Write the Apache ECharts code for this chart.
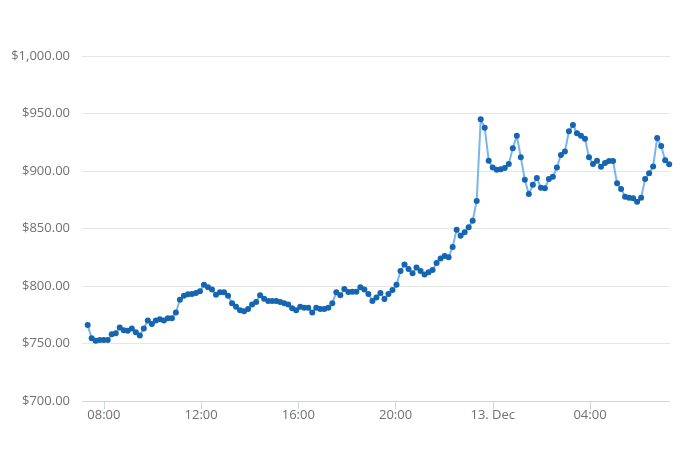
<!DOCTYPE html>
<html><head><meta charset="utf-8">
<script src="https://cdn.jsdelivr.net/npm/echarts@6/dist/echarts.min.js"></script>
<style>html,body{margin:0;padding:0;background:#fff}#c{width:680px;height:453px}</style>
</head><body><div id="c"></div>
<script>
// start time 12 Dec 07:20, ~10-minute samples
var startTime = [2016, 11, 12, 7, 20];
var stepMinutes = 9.9;
var prices = [
766,754.5,752.5,753,753,753,758,759,764,761.5,761,763,759.7,757,763,770,767,770,771,770,772,772,777,788,791.6,792.8,793,794,795.4,801,
799,797,792.5,794.5,794.5,791.6,785,782,779,778,780,784,786,792,789,787,787,787,786,785,784,780.6,779,782,781,781,777,781,780,780,
781,785,794.5,792,797.4,794.8,795,795,799,797,793,787,790,794,788.7,793,796.5,801,813,
818.6,814.8,811,816,813,810,812,814,820,824,826,825,834,849,843.7,846.7,851,856.8,874,945,
937.7,909,903,901,901.5,902.6,906,919.7,930.7,912,892.4,880,888,894,885.5,885,893,895,903,914,
917,934.5,940,932.8,930.7,928,912,906,909,903.7,906.9,908.7,908.7,889.3,884.3,877.7,876.8,876.2,873.3,876.8,
893,898,904,928.7,921.7,909.3,905.8
];
var yTicks = [700, 750, 800, 850, 900, 950, 1000];

var t0 = new Date(startTime[0], startTime[1], startTime[2], startTime[3], startTime[4]).getTime();
var data = prices.map(function (v, i) { return [t0 + i * stepMinutes * 60000, v]; });
function pad(n){return (n<10?'0':'')+n;}
var chart = echarts.init(document.getElementById('c'));
chart.setOption({
  animation: false,
  grid: {left: 82, right: 10, top: 56, bottom: 52},
  xAxis: {
    type: 'time',
    min: t0 - 14 * 60000,
    max: t0 + (prices.length - 1) * stepMinutes * 60000 + 2 * 60000,
    minInterval: 4 * 3600000, maxInterval: 4 * 3600000,
    axisLine: {lineStyle: {color: '#ccd6eb'}},
    axisTick: {show: true, lineStyle: {color: '#ccd6eb'}, length: 8},
    splitLine: {show: false},
    axisLabel: {
      color: '#707070', fontSize: 13, fontFamily: 'Open Sans',
      formatter: function (val) {
        var d = new Date(val);
        if (d.getHours() === 0 && d.getMinutes() === 0) return d.getDate() + '. Dec';
        return pad(d.getHours()) + ':' + pad(d.getMinutes());
      }
    }
  },
  yAxis: {
    type: 'value', min: yTicks[0], max: yTicks[yTicks.length - 1], interval: 50,
    axisLine: {show: false}, axisTick: {show: false},
    splitLine: {lineStyle: {color: '#e6e6e6'}},
    axisLabel: {
      color: '#707070', fontSize: 13, fontFamily: 'Open Sans', margin: 12,
      formatter: function (v) { return '$' + v.toLocaleString('en-US', {minimumFractionDigits: 2, maximumFractionDigits: 2}); }
    }
  },
  series: [{
    type: 'line', data: data,
    lineStyle: {color: '#7cb5ec', width: 2},
    symbol: 'circle', symbolSize: 6,
    itemStyle: {color: '#1565b0'}
  }]
});
</script></body></html>
